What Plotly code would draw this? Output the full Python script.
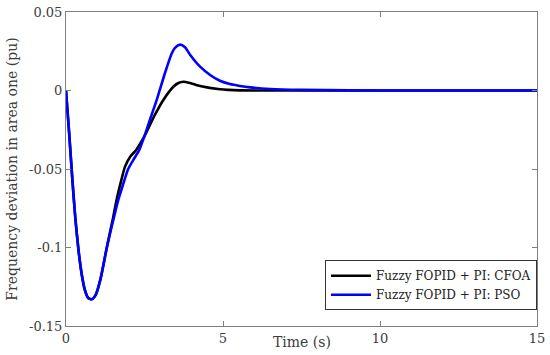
import plotly.graph_objects as go

# Time (s) and frequency deviation (pu)
t_pso = [0, 0.1, 0.2, 0.3, 0.4, 0.5, 0.6, 0.7, 0.82, 0.95, 1.1, 1.3, 1.5, 1.66, 1.8, 1.98,
         2.15, 2.33, 2.5, 2.7, 2.89, 3.15, 3.37, 3.47, 3.63, 3.79, 3.95, 4.27, 4.59, 4.9,
         5.22, 5.54, 5.86, 6.5, 7.5, 9, 11, 13, 15]
y_pso = [0, -0.027, -0.056, -0.082, -0.102, -0.117, -0.127, -0.132, -0.133, -0.130, -0.120,
         -0.100, -0.083, -0.070, -0.061, -0.050, -0.044, -0.038, -0.029, -0.017, -0.006,
         0.011, 0.0237, 0.0272, 0.0292, 0.0276, 0.0228, 0.0152, 0.0099, 0.0062, 0.0041,
         0.0029, 0.002, 0.001, 0.0004, 0.0001, 0, 0, 0]

t_cfoa = [0, 0.1, 0.2, 0.3, 0.4, 0.5, 0.6, 0.7, 0.82, 0.95, 1.1, 1.3, 1.5, 1.61, 1.75, 1.88,
          2.05, 2.23, 2.52, 2.8, 3.1, 3.42, 3.58, 3.74, 3.95, 4.27, 4.9, 5.54, 6.5, 8, 10,
          12.5, 15]
y_cfoa = [0, -0.027, -0.056, -0.082, -0.102, -0.117, -0.127, -0.132, -0.133, -0.130, -0.120,
          -0.100, -0.081, -0.0697, -0.058, -0.0485, -0.042, -0.038, -0.0283, -0.0167, -0.006,
          0.0024, 0.0048, 0.0056, 0.0048, 0.0029, 0.0008, 0.0001, 0, 0, 0, 0, 0]

names = ["Fuzzy FOPID + PI: CFOA", "Fuzzy FOPID + PI: PSO"]
x_ticks = [0, 5, 10, 15]
y_ticks = [0.05, 0, -0.05, -0.1, -0.15]
y_tick_text = ["0.05", "0", "-0.05", "-0.1", "-0.15"]

font_family = "DejaVu Serif"
axis_col = "#7f7f7f"
text_col = "#3c3c3c"

fig = go.Figure()
fig.add_trace(go.Scatter(x=t_cfoa, y=y_cfoa, mode="lines", name=names[0],
                         line=dict(color="black", width=2.6, shape="spline", smoothing=0.6)))
fig.add_trace(go.Scatter(x=t_pso, y=y_pso, mode="lines", name=names[1],
                         line=dict(color="#0000ff", width=2.6, shape="spline", smoothing=0.6)))

axis_common = dict(showgrid=False, zeroline=False, showline=True, linecolor=axis_col,
                   linewidth=1, mirror="ticks", ticks="inside", ticklen=5, automargin=False,
                   tickcolor=axis_col, tickfont=dict(family=font_family, size=13, color=text_col))

fig.update_layout(
    width=550, height=355,
    margin=dict(l=66, r=13, t=12, b=29, pad=0),
    paper_bgcolor="white", plot_bgcolor="white",
    showlegend=True,
    legend=dict(x=1, y=0.05, xanchor="right", yanchor="bottom",
                bgcolor="white", bordercolor="#333333", borderwidth=1,
                font=dict(family=font_family, size=12, color="#222222"),
                tracegroupgap=0, itemwidth=40),
    xaxis=dict(range=[0, 15], tickvals=x_ticks, **axis_common),
    yaxis=dict(range=[-0.15, 0.05], tickvals=y_ticks, ticktext=y_tick_text,
               title=dict(text="Frequency deviation in area one (pu)", standoff=8,
                          font=dict(family=font_family, size=14, color=text_col)),
               **axis_common),
    annotations=[dict(text="Time (s)", x=0.5, xref="paper", y=0, yref="paper",
                      yanchor="top", yshift=-6, showarrow=False,
                      font=dict(family=font_family, size=14, color=text_col))],
)

fig.write_html("out.html", config={"displayModeBar": False},
               post_script="document.body.style.margin='0';document.body.style.padding='0';")
